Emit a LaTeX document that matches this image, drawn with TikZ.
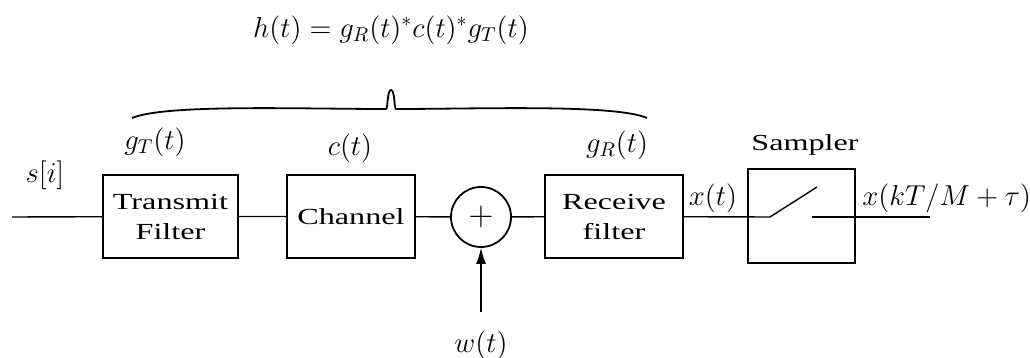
\documentclass[tikz,border=0pt]{standalone}
\usepackage{fontspec}
\setmainfont{Liberation Serif}
\usepackage{graphicx}
\usetikzlibrary{arrows.meta}
\newcommand{\wide}[1]{\scalebox{1.4}[1]{#1}}

\begin{document}
\begin{tikzpicture}[x=0.5pt, y=-0.5pt, font=\fontsize{11.5}{15}\selectfont,
    blk/.style={draw, line width=0.9pt, inner sep=0pt, align=center, minimum height=41.5pt},
    lbl/.style={inner sep=1pt, font=\fontsize{14}{16}\selectfont},
    wire/.style={line width=0.7pt}]
    \useasboundingbox (0,0) rectangle (1030,358);
    \node[blk, minimum width=67.5pt] (tx) at (170.5,216.5) {\wide{Transmit}\\\wide{Filter}};
    \node[blk, minimum width=64pt] (ch) at (351,216.5) {\wide{Channel}};
    \node[blk, circle, minimum size=30pt, minimum height=30pt, font=\fontsize{17}{19}\selectfont] (sum) at (481,217) {$+$};
    \node[blk, minimum width=69pt] (rx) at (614,216.5) {\wide{Receive}\\\wide{filter}};
    \node[blk, line width=1.4pt, minimum width=53.5pt, minimum height=47pt] (smp) at (801.5,216) {};
    \coordinate (in) at (12,217);
    \coordinate (sw1) at (770,217);
    \coordinate (sw2) at (817,187);
    \coordinate (sw3) at (812,217);
    \coordinate (out) at (930,217);
    \coordinate (noise) at (481,312);
    \draw[wire] (in) -- (tx) -- (ch) -- (sum) -- (rx) -- (sw1) -- (sw2);
    \draw[wire] (sw3) -- (out);
    \draw[wire, -{Latex[length=8pt,width=5pt]}] (noise) -- (sum);
    \node[lbl] (si) at (45,175) {$s[i]$};
    \node[lbl] (gt) at (155,142) {$g_T(t)$};
    \node[lbl] (ct) at (350,148) {$c(t)$};
    \node[lbl] (gr) at (617,145) {$g_R(t)$};
    \node[lbl, font=\fontsize{11.5}{15}\selectfont] (sl) at (805,145) {\wide{Sampler}};
    \node[lbl] (xt) at (713,198) {$x(t)$};
    \node[lbl, anchor=west] (xk) at (860,198) {$x(kT/M+\tau)$};
    \node[lbl] (wt) at (481,345) {$w(t)$};
    \node[lbl] (ht) at (391,30) {$h(t) = g_R(t)^*c(t)^*g_T(t)$};
    \draw[line width=0.9pt] (132,118) .. controls (165,104) and (300,109) .. (386,109)
        .. controls (388,109) and (387,90) .. (391,90)
        .. controls (395,90) and (394,109) .. (396,109)
        .. controls (480,109) and (615,104) .. (647,118);
\end{tikzpicture}
\end{document}
